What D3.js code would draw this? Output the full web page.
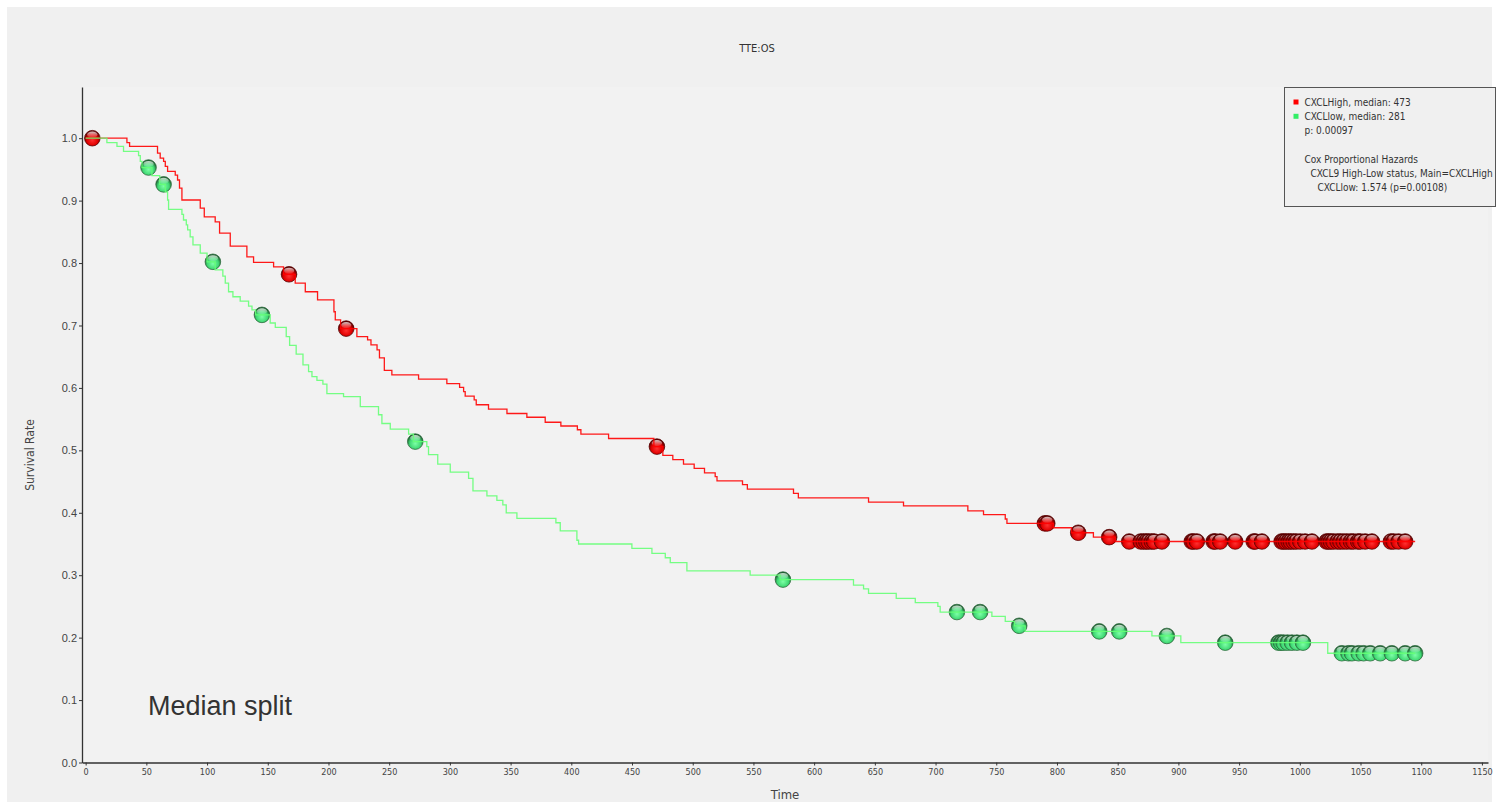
<!DOCTYPE html>
<html>
<head>
<meta charset="utf-8">
<script src="https://cdnjs.cloudflare.com/ajax/libs/d3/7.8.5/d3.min.js"></script>
<style>
  body { margin: 0; background: #fff; }
  svg { display: block; font-family: "DejaVu Sans Condensed", "Liberation Sans", sans-serif; }
</style>
</head>
<body>
<svg id="chart" width="1499" height="809"></svg>
<script>
// CXCLHigh step points: time and survival after each drop
const highTimes = [0, 34, 36.2, 59.2, 61.4, 64.2, 65.6, 67.5, 73.8, 75.7, 77.3, 79.3, 94.4, 97.7, 106.7, 110.3,
  119.1, 132.8, 138.3, 154.8, 163, 172.6, 180.9, 191, 204.5, 205.6, 210, 223.4, 232.2, 235, 240, 242, 246,
  252.2, 274.2, 297.5, 308, 311.3, 312.6, 320, 321.7, 331.8, 347, 363.4, 378.5, 391.4, 405, 407.9, 430.7,
  468, 475.4, 483.6, 492.4, 501.2, 509.7, 518.5, 520, 541, 545, 583, 587, 644.8, 673.6, 726.6, 739.5,
  757.4, 758.8, 797, 812, 830, 848, 1095];
const highSurv = [1.0, 0.993, 0.987, 0.976, 0.968, 0.963, 0.955, 0.947, 0.941, 0.933, 0.920, 0.901, 0.888, 0.874, 0.866, 0.848,
  0.827, 0.810, 0.801, 0.794, 0.782, 0.768, 0.754, 0.741, 0.722, 0.709, 0.695, 0.682, 0.677, 0.669, 0.661, 0.648, 0.628,
  0.621, 0.614, 0.607, 0.601, 0.594, 0.587, 0.581, 0.573, 0.566, 0.559, 0.553, 0.545, 0.539, 0.533, 0.526, 0.519,
  0.506, 0.492, 0.485, 0.478, 0.471, 0.464, 0.458, 0.451, 0.445, 0.438, 0.431, 0.424, 0.417, 0.411, 0.403, 0.397,
  0.390, 0.383, 0.376, 0.368, 0.361, 0.354, 0.354];
const highCensor = [5.5, 167.5, 214.6, 470.5, 790, 792, 817.5, 843, 859.5, 869, 871.3, 873.5, 875.4, 878, 880, 886.4,
  911, 912.4, 915.2, 929, 930.3, 934.4, 946.8, 962, 963.3, 968.8, 985, 986.6, 988.5, 990.7, 992.5, 994.8, 997,
  1000.3, 1004.4, 1010, 1022, 1023.6, 1025.5, 1027.7, 1031, 1033.3, 1036, 1038.8, 1042, 1044.2, 1048, 1049.8,
  1053.9, 1059.4, 1075, 1077.2, 1081.3, 1086.8];

// CXCLlow step points
const lowTimes = [0, 17.5, 25.8, 31.2, 43.6, 45, 46.4, 54.6, 61, 65.6, 67.5, 68.3, 79.3, 80.6, 82.9, 84, 86.1, 88.4,
  94.4, 100, 106.7, 113, 115, 117.7, 121.3, 127.3, 134.2, 137, 140, 152, 156.2, 165.2, 168, 173.4, 179, 183.6,
  186.4, 190.5, 195.4, 198.7, 212.4, 226.2, 241.2, 244, 250.9, 266, 270, 281, 282.4, 290, 300.3, 315.4, 319,
  330.5, 338.7, 343.6, 346.4, 355.2, 387.3, 390.9, 404.6, 406, 449.9, 466.4, 477.4, 481.5, 495.2, 547.3, 572,
  632.4, 640.7, 644.8, 667.6, 683.3, 701.9, 703.8, 746.4, 757.4, 765, 773.8, 878.2, 902, 1023, 1095];
const lowSurv = [1.0, 0.993, 0.987, 0.979, 0.972, 0.963, 0.953, 0.940, 0.926, 0.914, 0.901, 0.886, 0.878, 0.869, 0.861, 0.853, 0.842, 0.829,
  0.816, 0.802, 0.789, 0.779, 0.768, 0.754, 0.746, 0.739, 0.731, 0.725, 0.717, 0.704, 0.697, 0.682, 0.668, 0.654, 0.637, 0.626,
  0.618, 0.612, 0.606, 0.591, 0.586, 0.570, 0.557, 0.543, 0.534, 0.526, 0.514, 0.506, 0.493, 0.478, 0.465, 0.455, 0.435,
  0.427, 0.420, 0.4125, 0.400, 0.391, 0.384, 0.371, 0.356, 0.350, 0.343, 0.335, 0.328, 0.320, 0.307, 0.300, 0.293,
  0.284, 0.278, 0.271, 0.263, 0.256, 0.250, 0.241, 0.234, 0.226, 0.219, 0.210, 0.2027, 0.192, 0.175, 0.175];
const lowCensor = [51.8, 64.2, 104.8, 145.2, 271.5, 574.3, 717.6, 736.7, 768.9, 834.8, 851.3, 890.5, 938.6, 982.4,
  984.5, 986.6, 989.9, 993.5, 997.6, 1002.6, 1034.6, 1040, 1042.9, 1048.4, 1052.5, 1058, 1066.2, 1075.8, 1086.8, 1095];

const xTicks = d3.range(0, 1151, 50);
const yTicks = [0, 0.1, 0.2, 0.3, 0.4, 0.5, 0.6, 0.7, 0.8, 0.9, 1.0];

const legendLines = [
  { text: "CXCLHigh, median: 473", dx: 0, key: "#ff0000" },
  { text: "CXCLlow, median: 281", dx: 0, key: "#33ee66" },
  { text: "p: 0.00097", dx: 0 },
  { text: "", dx: 0 },
  { text: "Cox Proportional Hazards", dx: 0 },
  { text: "CXCL9 High-Low status, Main=CXCLHigh", dx: 6 },
  { text: "CXCLlow: 1.574 (p=0.00108)", dx: 13 }
];

const svg = d3.select("#chart");

// grey panel
svg.append("rect").attr("x", 7).attr("y", 7).attr("width", 1485).attr("height", 795).attr("fill", "#f0f0f0");
svg.append("rect").attr("x", 82).attr("y", 87).attr("width", 1406).attr("height", 675).attr("fill", "#f2f2f2");

const x = d3.scaleLinear().domain([-3, 1155]).range([82, 1488]);
const y = d3.scaleLinear().domain([0, 1.082]).range([762.5, 87]);

// axes
const gx = svg.append("g").attr("transform", "translate(0,762.5)")
  .call(d3.axisBottom(x).tickValues(xTicks).tickFormat(d3.format("d")).tickSize(3).tickSizeOuter(0).tickPadding(3));
gx.selectAll("text").attr("font-size", 9).attr("fill", "#444").style("font-family", "DejaVu Sans Condensed, sans-serif");
const gy = svg.append("g").attr("transform", "translate(82,0)")
  .call(d3.axisLeft(y).tickValues(yTicks).tickFormat(d3.format(".1f")).tickSize(3).tickSizeOuter(0).tickPadding(2));
gy.selectAll("text").attr("font-size", 11).attr("fill", "#444");
svg.selectAll(".domain").attr("stroke", "#333").attr("stroke-width", 1.3);
svg.selectAll(".tick line").attr("stroke", "#333");

// labels
svg.append("text").attr("x", 757).attr("y", 52).attr("text-anchor", "middle").attr("font-size", 11).attr("fill", "#333").text("TTE:OS");
svg.append("text").attr("x", 785).attr("y", 799).attr("text-anchor", "middle").attr("font-size", 13).attr("fill", "#444").text("Time");
svg.append("text").attr("transform", "translate(34,455) rotate(-90)").attr("text-anchor", "middle").attr("font-size", 12).attr("fill", "#444").text("Survival Rate");
svg.append("text").attr("x", 148).attr("y", 715).attr("font-size", 27).attr("fill", "#333").style("font-family", "Liberation Sans, sans-serif").text("Median split");

// marker gradients
const defs = svg.append("defs");
function ball(id, c0, c1, c2) {
  const g = defs.append("radialGradient").attr("id", id).attr("cx", "50%").attr("cy", "62%").attr("r", "55%");
  g.append("stop").attr("offset", "0%").attr("stop-color", c0);
  g.append("stop").attr("offset", "65%").attr("stop-color", c1);
  g.append("stop").attr("offset", "100%").attr("stop-color", c2);
}
ball("redBall", "#ff3030", "#e00000", "#5a0000");
ball("greenBall", "#7dffa6", "#3fd873", "#1d5e30");
const hl = defs.append("linearGradient").attr("id", "shine").attr("x1", 0).attr("y1", 0).attr("x2", 0).attr("y2", 1);
hl.append("stop").attr("offset", "0%").attr("stop-color", "#fff").attr("stop-opacity", 0.75);
hl.append("stop").attr("offset", "100%").attr("stop-color", "#fff").attr("stop-opacity", 0.05);

function survAt(times, surv, t) {
  const i = d3.bisectRight(times, t) - 1;
  return surv[Math.max(0, i)];
}

function drawMarkers(times, surv, censor, grad, stroke) {
  const g = svg.append("g");
  const m = g.selectAll("g").data(censor).enter().append("g")
    .attr("transform", d => `translate(${x(d)},${y(survAt(times, surv, d))})`);
  m.append("circle").attr("r", 7.8).attr("fill", `url(#${grad})`).attr("stroke", stroke).attr("stroke-width", 0.8);
  m.append("ellipse").attr("cy", -3.6).attr("rx", 5.2).attr("ry", 3).attr("fill", "url(#shine)");
}

drawMarkers(lowTimes, lowSurv, lowCensor, "greenBall", "#2d6b3e");
drawMarkers(highTimes, highSurv, highCensor, "redBall", "#5a0000");

const line = d3.line().curve(d3.curveStepAfter).x(d => x(d[0])).y(d => y(d[1]));
svg.append("path").datum(d3.zip(highTimes, highSurv)).attr("d", line)
  .attr("fill", "none").attr("stroke", "#ff0000").attr("stroke-width", 1.3).attr("stroke-opacity", 0.9);
svg.append("path").datum(d3.zip(lowTimes, lowSurv)).attr("d", line)
  .attr("fill", "none").attr("stroke", "#66ff77").attr("stroke-width", 1.3).attr("stroke-opacity", 0.9);

// legend
const lg = svg.append("g").attr("transform", "translate(1284.5,87.5)");
lg.append("rect").attr("width", 211).attr("height", 119).attr("fill", "#f0f0f0").attr("stroke", "#555");
legendLines.forEach((l, i) => {
  const yy = 18 + i * 14.3;
  if (l.key) lg.append("rect").attr("x", 9).attr("y", yy - 6).attr("width", 5).attr("height", 5).attr("fill", l.key);
  lg.append("text").attr("x", 20 + l.dx).attr("y", yy).attr("font-size", 10).attr("fill", "#333").text(l.text);
});
</script>
</body>
</html>
